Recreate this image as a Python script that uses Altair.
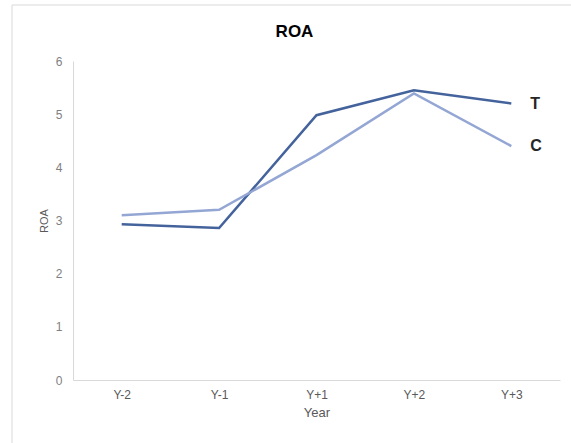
import altair as alt
import pandas as pd

years = ["Y-2", "Y-1", "Y+1", "Y+2", "Y+3"]
roa_t = [2.93, 2.86, 4.98, 5.45, 5.20]
roa_c = [3.10, 3.20, 4.23, 5.39, 4.40]
groups = ["T", "C"]
colors = ["#44639c", "#93a6d4"]

rows = []
for g, vals in zip(groups, [roa_t, roa_c]):
    for y, v in zip(years, vals):
        rows.append({"Year": y, "ROA": v, "Group": g})
df = pd.DataFrame(rows)
ends = df[df["Year"] == years[-1]]

W, H = 487, 319

x = alt.X("Year:N", sort=years, title="Year",
          scale=alt.Scale(paddingInner=0, paddingOuter=0.5),
          axis=alt.Axis(labelAngle=0, ticks=False, domainColor="#d9d9d9",
                        labelColor="#595959", labelFontSize=12, labelPadding=9,
                        titleColor="#595959", titleFontSize=13, titleFontWeight="normal",
                        titlePadding=6, labelFont="Liberation Sans", titleFont="Liberation Sans"))
y = alt.Y("ROA:Q", title="ROA", scale=alt.Scale(domain=[0, 6], nice=False),
          axis=alt.Axis(values=[0, 1, 2, 3, 4, 5, 6], ticks=False, grid=False,
                        domainColor="#d9d9d9", labelColor="#7f7f7f", labelFontSize=12,
                        labelPadding=11, titleColor="#595959", titleFontSize=11,
                        titleFontWeight="normal", titlePadding=6,
                        labelFont="Liberation Sans", titleFont="Liberation Sans"))
color = alt.Color("Group:N", scale=alt.Scale(domain=groups, range=colors), legend=None)

one = pd.DataFrame({"t": ["ROA"]})

frame = alt.Chart(one).mark_rect(
    fill=None, stroke="#d9d9d9", strokeWidth=1, clip=False
).encode(x=alt.value(-61), x2=alt.value(W + 30), y=alt.value(-56), y2=alt.value(H + 80))

title = alt.Chart(one).mark_text(
    fontSize=17, fontWeight="bold", font="Liberation Sans", color="#000000",
    baseline="middle"
).encode(x=alt.value(W / 2 - 22), y=alt.value(-29), text="t:N")

lines = alt.Chart(df).mark_line(strokeWidth=2.5).encode(x=x, y=y, color=color,
                                                      detail="Group:N")

labels = alt.Chart(ends).mark_text(
    align="left", dx=19, fontSize=16, fontWeight="bold", font="Liberation Sans",
    color="#262626"
).encode(x=alt.X("Year:N", sort=years), y="ROA:Q", text="Group:N")

chart = alt.layer(frame, title, lines, labels).properties(
    width=W, height=H,
    autosize=alt.AutoSizeParams(type="none"),
    padding={"left": 73, "top": 61, "right": 11, "bottom": 63},
).configure_view(stroke=None)

chart.save("out.html", embed_options={"renderer": "svg", "actions": False})
